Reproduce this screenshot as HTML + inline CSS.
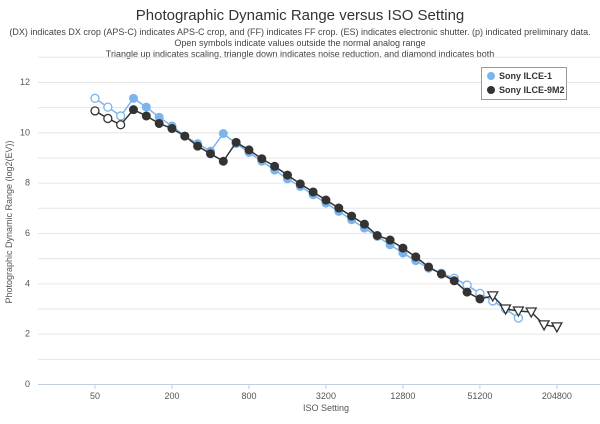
<!DOCTYPE html>
<html><head><meta charset="utf-8"><style>
body{margin:0;background:#fff;font-family:"Liberation Sans",sans-serif}
svg text{font-family:"Liberation Sans",sans-serif}
</style></head><body>
<svg id="c" width="600" height="419" xmlns="http://www.w3.org/2000/svg">
<rect width="600" height="419" fill="#fff"/>
<text x="300" y="20" text-anchor="middle" font-size="15" fill="#333">Photographic Dynamic Range versus ISO Setting</text>
<text x="300" y="35" text-anchor="middle" font-size="9" fill="#444">(DX) indicates DX crop (APS-C) indicates APS-C crop, and (FF) indicates FF crop. (ES) indicates electronic shutter. (p) indicated preliminary data.</text>
<text x="300" y="46" text-anchor="middle" font-size="9" fill="#444">Open symbols indicate values outside the normal analog range</text>
<text x="300" y="57" text-anchor="middle" font-size="9" fill="#444">Triangle up indicates scaling, triangle down indicates noise reduction, and diamond indicates both</text>
<g id="grid"></g>
<line x1="38" y1="384.5" x2="600" y2="384.5" stroke="#c0d0e0" stroke-width="1"/>
<text transform="translate(12,222) rotate(-90)" text-anchor="middle" font-size="9" fill="#555">Photographic Dynamic Range (log2(EV))</text>
<text x="326" y="411" text-anchor="middle" font-size="9" fill="#555">ISO Setting</text>
<g id="plot"></g>
<rect x="481.5" y="67.5" width="85" height="32" fill="#fff" stroke="#999"/>
<circle cx="491" cy="76" r="4" fill="#7cb5ec"/>
<text x="499" y="79" font-size="9" font-weight="bold" fill="#333">Sony ILCE-1</text>
<circle cx="491" cy="90" r="4" fill="#333"/>
<text x="499" y="93" font-size="9" font-weight="bold" fill="#333">Sony ILCE-9M2</text>
</svg>
<script>
var NS="http://www.w3.org/2000/svg";
function el(p,t,a,txt){var e=document.createElementNS(NS,t);for(var k in a)e.setAttribute(k,a[k]);if(txt!=null)e.textContent=txt;p.appendChild(e);return e;}
var g=document.getElementById('grid'),pl=document.getElementById('plot');
function Y(v){return 384-v*25.17;}
function X(i){return 95+i*12.83;}
for(var v=1;v<=13;v++){el(g,'line',{x1:38,x2:600,y1:Y(v)+0.5,y2:Y(v)+0.5,stroke:'#e6e6e6'});}
for(var v=0;v<=12;v+=2){el(g,'text',{x:30,y:Y(v)+3,'text-anchor':'end','font-size':9,fill:'#555'},v);}
var xl=['50','200','800','3200','12800','51200','204800'];
for(var j=0;j<7;j++){var x=X(j*6);el(g,'line',{x1:x,x2:x,y1:384,y2:389,stroke:'#c0d0e0'});el(g,'text',{x:x,y:399,'text-anchor':'middle','font-size':9,fill:'#555'},xl[j]);}
function lin(a,b,n){var r=[];for(var i=1;i<n;i++)r.push(a+(b-a)*i/n);return r;}
var blue=[11.35,11.0,10.65,11.35,11.0,10.6,10.25,9.85,9.55,9.25,9.95,9.55,9.2,8.85,8.5,8.15,7.85].concat(lin(7.85,5.2,8)).concat([5.2,4.9,4.6,4.4,4.2,3.93,3.6,3.3,2.98,2.62]);
var black=[10.85,10.55,10.3,10.9,10.65,10.35,10.15,9.85,9.45,9.15,8.85,9.6,9.3,8.95,8.65,8.3,7.95].concat(lin(7.95,6.35,5)).concat([6.35,5.9,5.72,5.4,5.05,4.65,4.37,4.1,3.65,3.38,3.5,2.98,2.9,2.86,2.35,2.27]);
function series(d,col,openF){
 var pts=d.map(function(v,i){return X(i)+','+Y(v)}).join(' ');
 el(pl,'polyline',{points:pts,fill:'none',stroke:col,'stroke-width':1.5});
 d.forEach(function(v,i){var t=openF(i),x=X(i),y=Y(v);
  if(t=='tri'){el(pl,'path',{d:'M'+(x-5)+' '+(y-4)+'L'+(x+5)+' '+(y-4)+'L'+x+' '+(y+5)+'Z',fill:'#fff',stroke:col,'stroke-width':1.3});}
  else if(t=='open'){el(pl,'circle',{cx:x,cy:y,r:4,fill:'#fff',stroke:col,'stroke-width':1.3});}
  else el(pl,'circle',{cx:x,cy:y,r:4.5,fill:col});});
}
series(blue,'#7cb5ec',function(i){return (i<3||i>=27)?'open':'fill'});
series(black,'#333',function(i){return i<3?'open':(i>=31?'tri':'fill')});
</script>
</body></html>
